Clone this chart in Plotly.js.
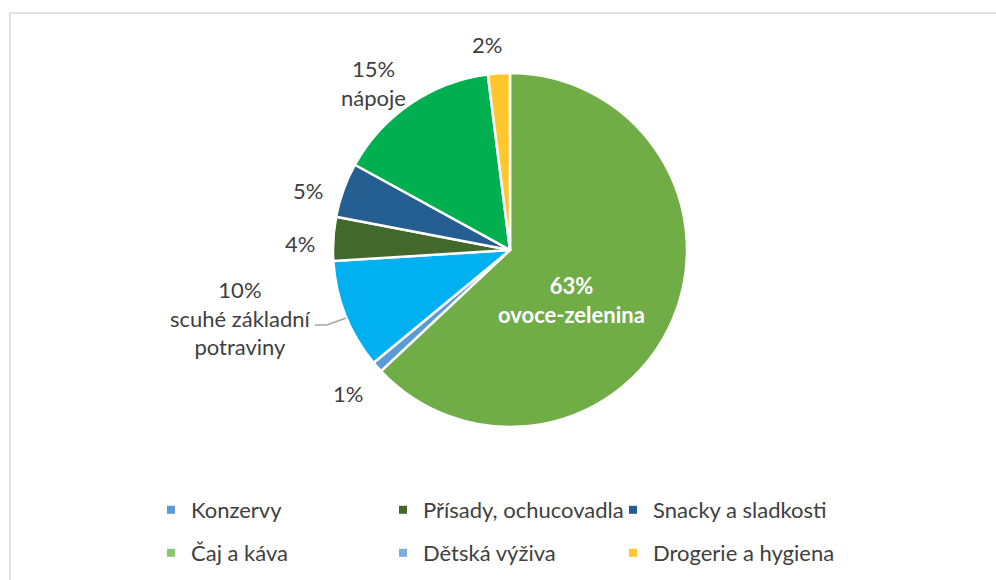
<!DOCTYPE html>
<html>
<head>
<meta charset="utf-8">
<script src="https://cdn.plot.ly/plotly-3.0.1.min.js"></script>
<style>html,body{margin:0;padding:0;background:#fff;}#chart{width:996px;height:580px;}</style>
</head>
<body>
<div id="chart"></div>
<script>
// ---- data (pie slices, clockwise from 12 o'clock) ----
const sliceLabels = ['ovoce-zelenina', 'Konzervy', 'scuhé základní potraviny', 'Přísady, ochucovadla', 'Snacky a sladkosti', 'nápoje', 'Drogerie a hygiena'];
const sliceValues = [63, 1, 10, 4, 5, 15, 2];
const sliceColors = ['#70AD47', '#5B9BD5', '#00B0F0', '#43682B', '#255E91', '#00B050', '#FFC72C'];
// which slices show their category name in the data label
const showName = [true, false, true, false, false, true, false];

// ---- legend entries ----
const legendLabels = ['Konzervy', 'Přísady, ochucovadla', 'Snacky a sladkosti', 'Čaj a káva', 'Dětská výživa', 'Drogerie a hygiena'];
const legendColors = ['#5B9BD5', '#43682B', '#255E91', '#8CC56A', '#7DAEE0', '#FFC72C'];

// ---- layout helpers (pixels) ----
const W = 996, H = 580;
const px = x => x / W, py = y => 1 - y / H;
const FONT = 'Lato, "Open Sans", sans-serif';
const TXT = '#404040';
const FS = 22;

const cx = 510, cy = 250, R = 177;

const traces = [{
  type: 'pie',
  labels: sliceLabels,
  values: sliceValues,
  sort: false,
  direction: 'clockwise',
  rotation: 0,
  marker: {colors: sliceColors, line: {color: '#ffffff', width: 2.5}},
  textinfo: 'none',
  hoverinfo: 'label+percent',
  showlegend: false,
  domain: {x: [px(cx - R), px(cx + R)], y: [py(cy + R), py(cy - R)]}
}];

// legend traces: one legend per entry, 3 columns x 2 rows
const colTextX = [191, 423, 653];
const rowY = [510, 553];
const layoutLegends = {};
legendLabels.forEach((lab, i) => {
  const key = i === 0 ? 'legend' : 'legend' + (i + 1);
  traces.push({
    type: 'scatter', mode: 'markers', x: [null], y: [null],
    name: lab, legend: key, showlegend: true,
    marker: {symbol: 'square', size: 8, color: legendColors[i]},
    hoverinfo: 'skip'
  });
  layoutLegends[key] = {
    x: px(colTextX[i % 3] - 40), xanchor: 'left',
    y: py(rowY[Math.floor(i / 3)]), yanchor: 'middle',
    font: {family: FONT, size: FS, color: TXT},
    bgcolor: 'rgba(0,0,0,0)', borderwidth: 0
  };
});

// data labels (text built from the arrays)
const labelPos = [
  {x: 571, y: 300, inside: true},
  {x: 348, y: 393},
  {x: 240, y: 318},
  {x: 300, y: 244},
  {x: 308, y: 190},
  {x: 373, y: 83},
  {x: 487, y: 45}
];
const annotations = sliceValues.map((v, i) => {
  const txt = v + '%' + (showName[i] ? '<br>' + sliceLabels[i].replace('scuhé základní potraviny', 'scuhé základní<br>potraviny') : '');
  const p = labelPos[i];
  return {
    xref: 'paper', yref: 'paper', x: px(p.x), y: py(p.y),
    xanchor: 'center', yanchor: 'middle', showarrow: false, align: 'center',
    text: p.inside ? '<b>' + txt + '</b>' : txt,
    font: {family: FONT, size: FS, color: p.inside ? '#ffffff' : TXT}
  };
});

const shapes = [
  // chart area border (top & left visible)
  {type: 'rect', xref: 'paper', yref: 'paper', x0: px(10), x1: px(1100), y0: py(700), y1: py(13),
   line: {color: '#D9D9D9', width: 1.5}, fillcolor: 'rgba(0,0,0,0)', layer: 'below'},
  // leader line for the 10% label
  {type: 'path', xref: 'paper', yref: 'paper',
   path: `M ${px(315)} ${py(325)} L ${px(327)} ${py(325)} L ${px(346)} ${py(318)}`,
   line: {color: '#A6A6A6', width: 1.5}}
];

const layout = Object.assign({
  width: W, height: H,
  margin: {l: 0, r: 0, t: 0, b: 0},
  paper_bgcolor: '#ffffff', plot_bgcolor: 'rgba(0,0,0,0)',
  xaxis: {visible: false, fixedrange: true},
  yaxis: {visible: false, fixedrange: true},
  font: {family: FONT, color: TXT},
  annotations: annotations,
  shapes: shapes
}, layoutLegends);

Plotly.newPlot('chart', traces, layout, {displayModeBar: false, staticPlot: true});
</script>
</body>
</html>
